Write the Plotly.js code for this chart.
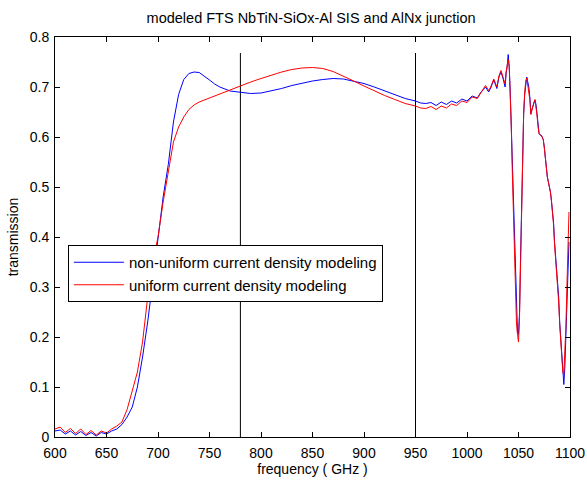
<!DOCTYPE html>
<html>
<head>
<meta charset="utf-8">
<script src="https://cdn.plot.ly/plotly-3.0.1.min.js"></script>
<style>html,body{margin:0;padding:0;background:#fff;}#chart{width:587px;height:480px;}</style>
</head>
<body>
<div id="chart"></div>
<script>
const chartTitle = "modeled FTS NbTiN-SiOx-Al SIS and AlNx junction";
const xLabel = "frequency ( GHz )";
const yLabel = "transmission";
const seriesNames = ["non-uniform current density modeling", "uniform current density modeling"];

const freq = [
  600,605,610,615,620,625,630,635,640,645,650,655,660,
  665,670,675,680,685,690,695,700,705,710,715,720,725,730,735,740,745,750,755,760,
  770,780,790,800,810,820,830,840,850,860,870,880,890,900,910,920,930,940,
  950,955,960,965,970,975,980,985,990,995,1000,1005,1010,
  1013,1016,1018,1021,1023,1026,1029,1031,1033,1035,1037,1038,1039,
  1040,1041,1042,1043,1044,1045,1046,1047,1048,1049,1050,1051,1052,1053,1054,1055,1056,1057,1058,1059,
  1060,1061,1062,1063,1064,1065,1066,1067,1068,1069,1070,1071,1072,1073,1074,1075,1076,1077,1078,1079,
  1080,1081,1082,1083,1084,1085,1086,1087,1088,1089,1090,1091,1092,1093,1094,1095,1096,1097,1098,1099
];

const nonUniform = [
  0.012,0.014,0.006,0.012,0.004,0.011,0.003,0.009,0.002,0.009,0.006,0.012,0.016,
  0.025,0.04,0.06,0.10,0.16,0.23,0.31,0.39,0.48,0.545,0.63,0.685,0.715,0.727,0.73,0.729,0.722,0.714,0.706,0.70,
  0.692,0.689,0.687,0.688,0.692,0.697,0.703,0.708,0.712,0.715,0.717,0.716,0.712,0.707,0.70,0.692,0.684,0.677,
  0.672,0.668,0.667,0.669,0.663,0.670,0.665,0.672,0.668,0.676,0.672,0.682,0.678,
  0.688,0.695,0.70,0.69,0.698,0.714,0.697,0.72,0.73,0.717,0.70,0.728,0.741,
  0.765,0.74,0.69,0.62,0.53,0.45,0.38,0.30,0.235,0.21,0.205,0.25,0.36,0.48,0.59,0.645,0.685,0.71,0.72,0.71,
  0.70,0.68,0.647,0.655,0.662,0.668,0.674,0.665,0.645,0.62,0.607,0.604,0.603,0.60,0.595,0.58,0.555,0.535,0.52,0.51,
  0.50,0.49,0.472,0.45,0.43,0.39,0.36,0.34,0.315,0.28,0.23,0.20,0.16,0.125,0.105,0.14,0.20,0.27,0.34,0.39
];

const uniform = [
  0.016,0.020,0.009,0.017,0.007,0.016,0.005,0.013,0.004,0.012,0.008,0.016,0.022,
  0.03,0.055,0.095,0.13,0.19,0.28,0.35,0.40,0.47,0.53,0.59,0.62,0.64,0.655,0.664,0.67,0.674,0.678,0.682,0.686,
  0.694,0.703,0.71,0.717,0.724,0.73,0.735,0.738,0.739,0.737,0.731,0.722,0.712,0.702,0.692,0.683,0.675,0.667,
  0.662,0.658,0.657,0.661,0.655,0.662,0.658,0.666,0.663,0.672,0.669,0.680,0.677,
  0.688,0.697,0.703,0.693,0.70,0.716,0.70,0.722,0.733,0.72,0.706,0.73,0.74,
  0.755,0.74,0.69,0.62,0.53,0.45,0.38,0.295,0.23,0.205,0.19,0.24,0.35,0.47,0.59,0.647,0.688,0.712,0.718,0.705,
  0.695,0.675,0.645,0.655,0.663,0.67,0.675,0.662,0.643,0.62,0.606,0.604,0.604,0.60,0.595,0.58,0.555,0.535,0.52,0.51,
  0.50,0.49,0.472,0.45,0.425,0.385,0.355,0.335,0.31,0.27,0.225,0.19,0.155,0.13,0.125,0.16,0.22,0.30,0.40,0.45
];

const markerFreqs = [780, 950];
const markerTop = 0.768;

const xTicks = [600,650,700,750,800,850,900,950,1000,1050,1100];
const yTicks = [0,0.1,0.2,0.3,0.4,0.5,0.6,0.7,0.8];
const yTickText = ["0","0.1","0.2","0.3","0.4","0.5","0.6","0.7","0.8"];

const font = "Liberation Sans, Arial, Helvetica, sans-serif";

const traces = [];
markerFreqs.forEach(f => {
  traces.push({x:[f,f], y:[0,markerTop], mode:"lines", line:{color:"#000", width:1},
    showlegend:false, hoverinfo:"skip"});
});
traces.push({x:freq, y:nonUniform, name:seriesNames[0], mode:"lines", line:{color:"#0000ff", width:1}});
traces.push({x:freq, y:uniform, name:seriesNames[1], mode:"lines", line:{color:"#ff0000", width:1}});

const axisCommon = {
  showline:true, linecolor:"#000", linewidth:1, mirror:"ticks",
  ticks:"inside", ticklen:5, tickcolor:"#000", tickwidth:1,
  showgrid:false, zeroline:false,
  tickfont:{family:font, size:14, color:"#000"}
};

const layout = {
  width:587, height:480,
  margin:{l:55, r:17, t:37, b:43},
  paper_bgcolor:"#fff", plot_bgcolor:"#fff",
  font:{family:font, size:14, color:"#000"},
  title:{text:chartTitle, x:0.53, xanchor:"center", y:0.963, yanchor:"middle", font:{family:font, size:14.5, color:"#000"}},
  xaxis:Object.assign({}, axisCommon, {range:[600,1100], tickvals:xTicks, ticklabelstandoff:3,
    title:{text:xLabel, font:{family:font, size:14}, standoff:0}}),
  yaxis:Object.assign({}, axisCommon, {range:[0,0.8], tickvals:yTicks, ticktext:yTickText, ticklabelstandoff:2,
    title:{text:yLabel, font:{family:font, size:14}, standoff:7}}),
  showlegend:true,
  legend:{x:0.025, y:0.48, xanchor:"left", yanchor:"top", bgcolor:"#fff",
    bordercolor:"#000", borderwidth:1, font:{family:font, size:15, color:"#000"},
    itemwidth:50, tracegroupgap:0}
};

Plotly.newPlot("chart", traces, layout, {displayModeBar:false, staticPlot:true});
</script>
</body>
</html>
